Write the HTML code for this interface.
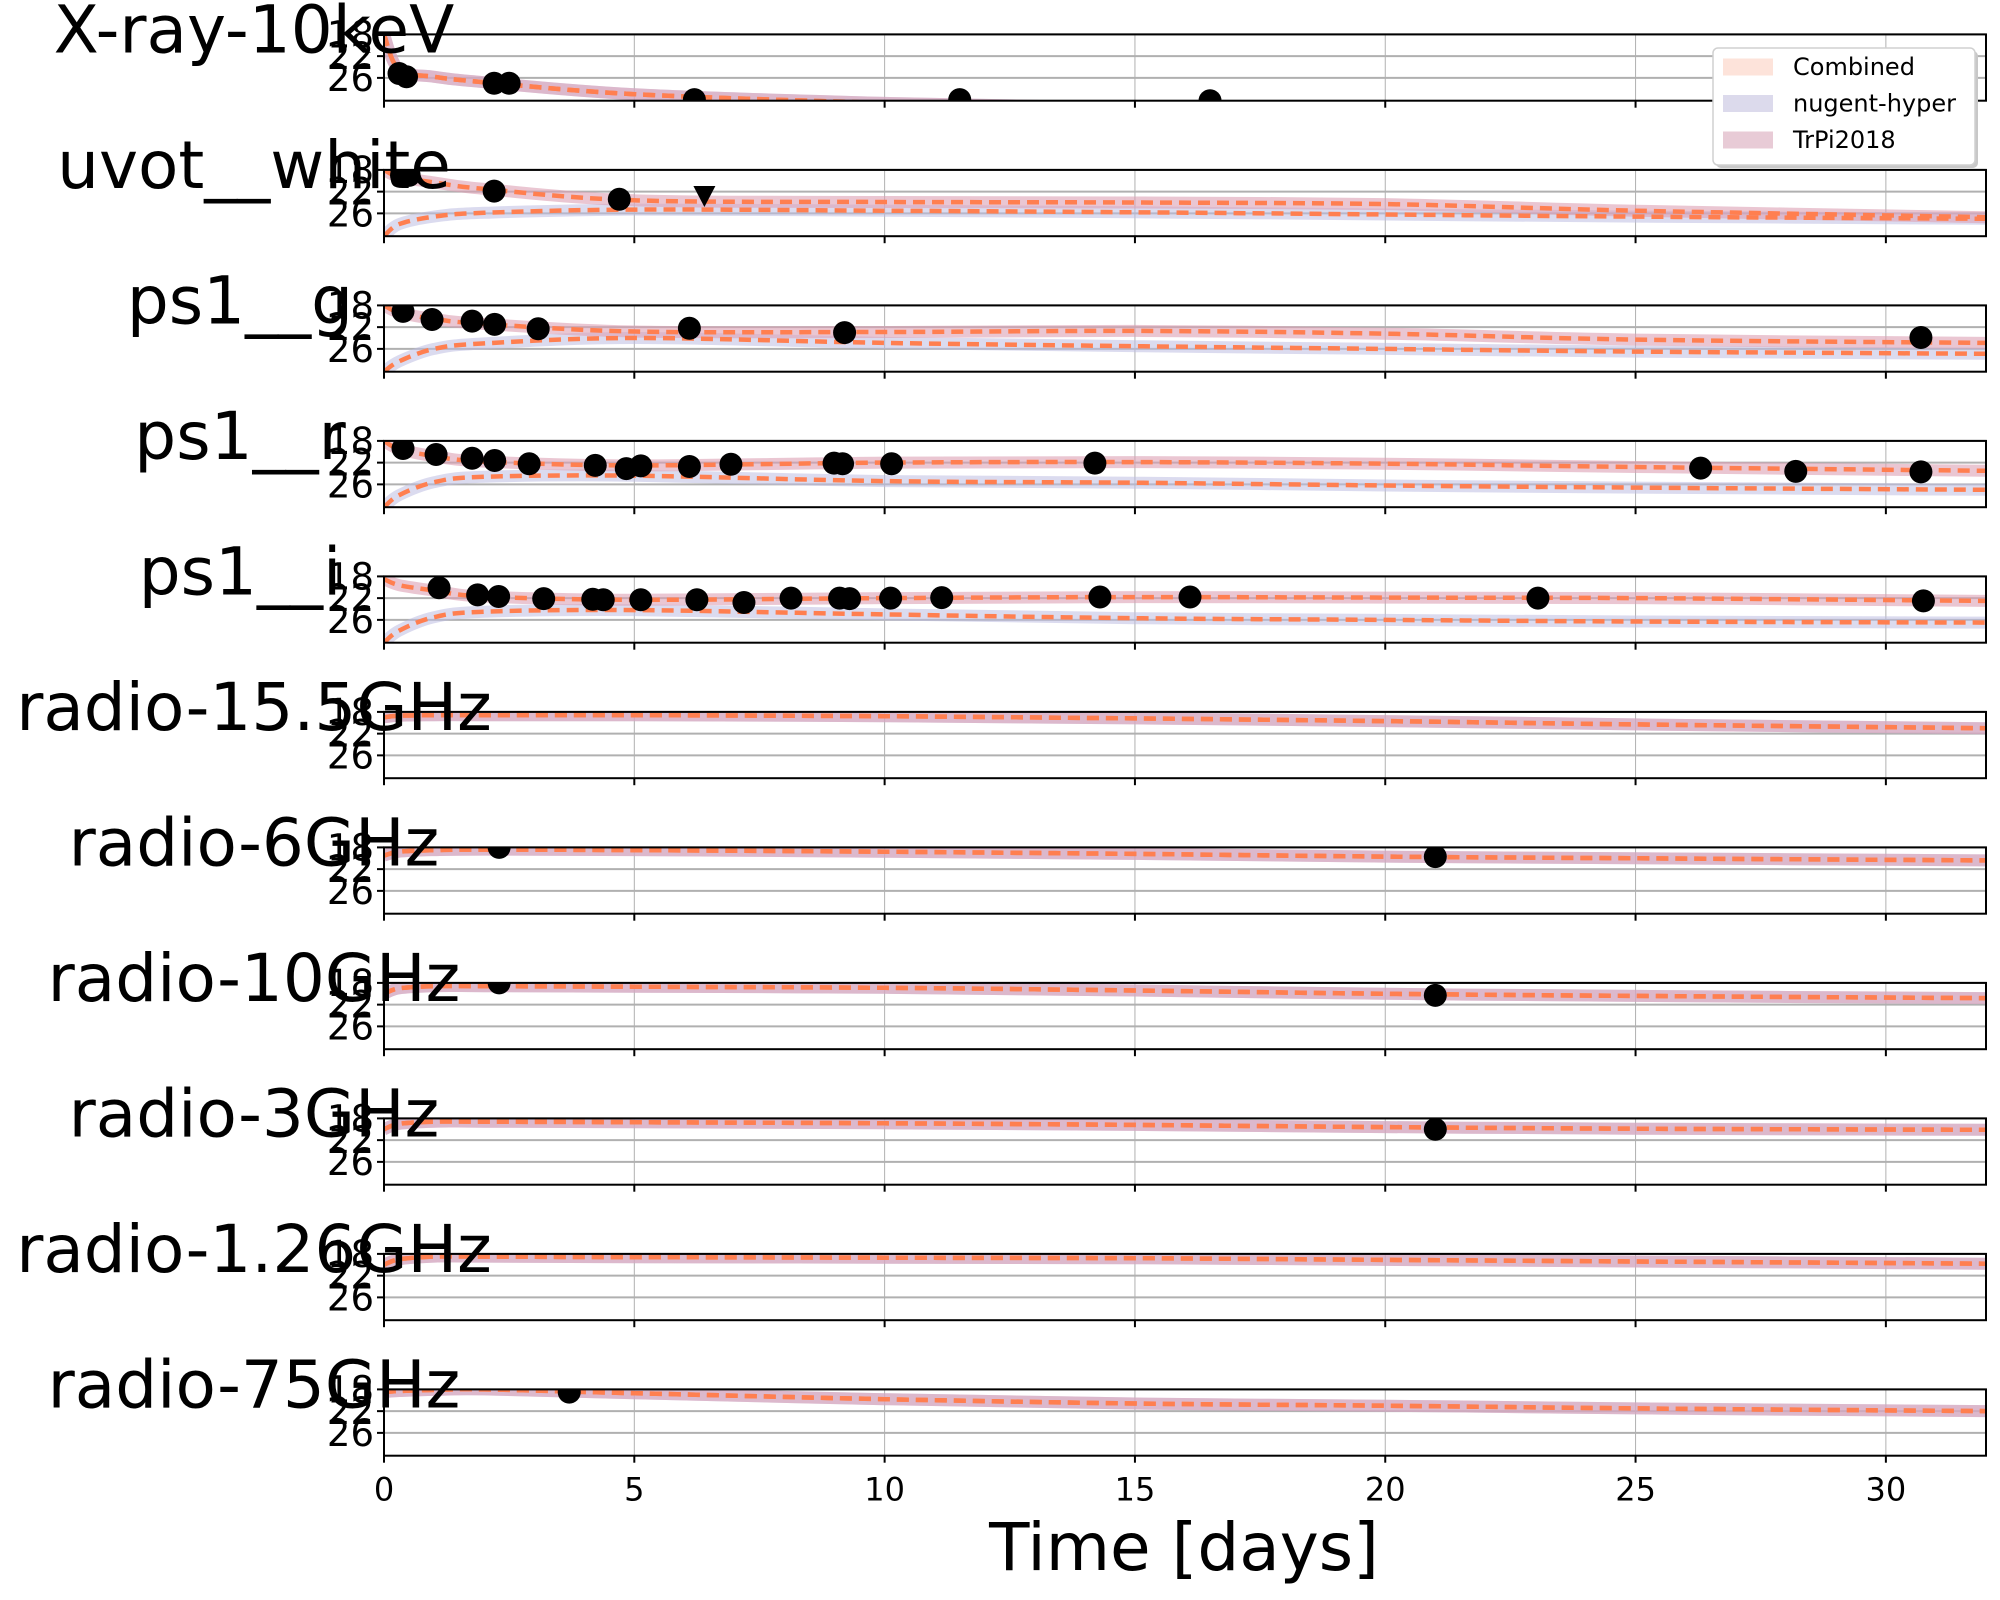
<!DOCTYPE html>
<html><head><meta charset="utf-8">
<style>
html,body{margin:0;padding:0;background:#fff;}
svg{display:block;font-family:"DejaVu Sans","Liberation Sans",sans-serif;}
</style></head>
<body>
<svg id="chart" width="2000" height="1600" viewBox="0 0 2000 1600" xmlns="http://www.w3.org/2000/svg"></svg>
<script>
// ---- data ----
const panelNames = ["X-ray-10keV","uvot__white","ps1__g","ps1__r","ps1__i","radio-15.5GHz","radio-6GHz","radio-10GHz","radio-3GHz","radio-1.26GHz","radio-75GHz"];
const curveTimes = [0,0.3,1,2,5,10,15,20,25,32];
const upperXray = [18,24.5,25.8,26.8,29,30.6,31.5,32,32,32];
const lowerXray = [18,24.5,25.8,26.8,29,30.6,31.5,32,32,32];
const upperUvot = [18,19.3,20.3,21.5,23.6,23.9,24.0,24.3,25.5,26.7];
const lowerUvot = [30.2,28.0,26.6,25.9,25.3,25.5,25.8,26.2,26.6,27.0];
const upperG = [18,19.3,20.5,21.4,22.8,22.9,22.7,23.2,24.3,24.9];
const lowerG = [30.2,28.3,26.0,25.0,24.0,24.9,25.5,26,26.5,26.9];
const upperR = [18,19.5,20.8,21.8,22.5,22.0,21.9,22.2,22.8,23.5];
const lowerR = [30.2,28.0,25.6,24.6,24.4,25.4,25.7,26.2,26.6,27.0];
const upperI = [18.5,19.6,20.6,21.7,22.3,22.0,21.8,21.9,22.0,22.5];
const lowerI = [30.2,28.0,25.5,24.5,24.2,25.0,25.7,26.0,26.3,26.5];
const curve155 = [19,18.7,18.6,18.6,18.6,18.8,19.2,19.7,20.3,21.0];
const curve6 = [19.5,18.8,18.5,18.4,18.5,18.8,19.2,19.7,20.0,20.4];
const curve10 = [20,19,18.6,18.6,18.7,18.9,19.4,20.0,20.4,20.8];
const curve3 = [20,19,18.6,18.6,18.7,18.9,19.2,19.6,19.9,20.1];
const curve126 = [20,19,18.5,18.5,18.6,18.7,18.8,19.1,19.4,19.8];
const curve75 = [18.5,18.3,18.1,18.0,18.7,19.8,20.6,21.0,21.5,22.0];

const ptXrayT = [0.3,0.45,2.2,2.5,6.2,11.5,16.5];
const ptXrayM = [25.2,25.8,27.0,27.0,30.0,30.0,30.2];
const ptUvotT = [0.35,0.5,2.2,4.7];
const ptUvotM = [19.0,19.0,21.9,23.4];
const limUvotT = [6.4];
const limUvotM = [22.8];
const ptGT = [0.38,0.96,1.76,2.21,3.08,6.1,9.2,30.7];
const ptGM = [19.1,20.6,20.9,21.5,22.3,22.2,23.0,23.9];
const ptRT = [0.38,1.04,1.76,2.21,2.9,4.22,4.84,5.13,6.1,6.93,8.99,9.16,10.14,14.2,26.3,28.2,30.7];
const ptRM = [19.4,20.5,21.2,21.6,22.2,22.5,23.1,22.6,22.7,22.3,22.1,22.2,22.2,22.1,23.0,23.6,23.7];
const ptIT = [1.1,1.87,2.29,3.19,4.17,4.38,5.13,6.25,7.19,8.13,9.1,9.3,10.12,11.14,14.3,16.1,23.05,30.75];
const ptIM = [20.1,21.4,21.7,22.1,22.2,22.3,22.3,22.3,22.8,22.0,22.0,22.1,22.0,21.9,21.8,21.8,22.0,22.5];
const pt6T = [2.3,21.0];
const pt6M = [18.0,19.7];
const pt10T = [2.3,21.0];
const pt10M = [18.0,20.3];
const pt3T = [21.0];
const pt3M = [20.0];
const pt75T = [3.7];
const pt75M = [18.5];

const xTicks = [0,5,10,15,20,25,30];
const yTicks = [18,22,26];

const panels = [
 {u:upperXray,l:lowerXray,pt:ptXrayT,pm:ptXrayM},
 {u:upperUvot,l:lowerUvot,pt:ptUvotT,pm:ptUvotM,lt:limUvotT,lm:limUvotM},
 {u:upperG,l:lowerG,pt:ptGT,pm:ptGM},
 {u:upperR,l:lowerR,pt:ptRT,pm:ptRM},
 {u:upperI,l:lowerI,pt:ptIT,pm:ptIM},
 {u:curve155,l:curve155,pt:[],pm:[]},
 {u:curve6,l:curve6,pt:pt6T,pm:pt6M},
 {u:curve10,l:curve10,pt:pt10T,pm:pt10M},
 {u:curve3,l:curve3,pt:pt3T,pm:pt3M},
 {u:curve126,l:curve126,pt:[],pm:[]},
 {u:curve75,l:curve75,pt:pt75T,pm:pt75M}
];

// ---- layout ----
const X0=384, X1=1986, TMAX=32;
const PTOP0=34.4, PSTEP=135.5, PH=66.3;
const MTOP=18, MBOT=30.2;
const NS="http://www.w3.org/2000/svg";
const svg=document.getElementById('chart');
function xs(t){return X0+(t/TMAX)*(X1-X0);}
function ys(m,top){return top+(m-MTOP)/(MBOT-MTOP)*PH;}
function mk(tag,attrs,parent){const e=document.createElementNS(NS,tag);for(const k in attrs)e.setAttribute(k,attrs[k]);(parent||svg).appendChild(e);return e;}
function smoothPath(pts){
 let d="M"+pts[0][0].toFixed(1)+","+pts[0][1].toFixed(1);
 for(let i=0;i<pts.length-1;i++){
  const p0=pts[Math.max(0,i-1)],p1=pts[i],p2=pts[i+1],p3=pts[Math.min(pts.length-1,i+2)];
  const c1=[p1[0]+(p2[0]-p0[0])/6,p1[1]+(p2[1]-p0[1])/6];
  const c2=[p2[0]-(p3[0]-p1[0])/6,p2[1]-(p3[1]-p1[1])/6];
  d+=" C"+c1[0].toFixed(1)+","+c1[1].toFixed(1)+" "+c2[0].toFixed(1)+","+c2[1].toFixed(1)+" "+p2[0].toFixed(1)+","+p2[1].toFixed(1);
 }
 return d;
}
const defs=mk('defs',{});

panels.forEach((p,i)=>{
 const top=PTOP0+i*PSTEP;
 const g=mk('g',{});
 
 
 const cp=mk('clipPath',{id:'clip'+i},defs);
 mk('rect',{x:X0,y:top,width:X1-X0,height:PH},cp);
 xTicks.forEach(t=>{
  const l=mk('line',{x1:xs(t),x2:xs(t),y1:top,y2:top+PH,stroke:'#b0b0b0','stroke-width':1},g);
  
  
 });
 yTicks.forEach(m=>{
  const l=mk('line',{x1:X0,x2:X1,y1:ys(m,top),y2:ys(m,top),stroke:'#b0b0b0','stroke-width':2},g);
  
  
 });
 const plot=mk('g',{'clip-path':'url(#clip'+i+')'},g);
 const up=smoothPath(curveTimes.map((t,k)=>[xs(t),ys(p.u[k],top)]));
 const lo=smoothPath(curveTimes.map((t,k)=>[xs(t),ys(p.l[k],top)]));
 const b1=mk('path',{d:lo,fill:'none',stroke:'rgba(190,190,225,0.55)','stroke-width':12},plot);
 
 
 const b2=mk('path',{d:up,fill:'none',stroke:'rgba(220,160,180,0.6)','stroke-width':12},plot);
 
 
 const d1=mk('path',{d:lo,fill:'none',stroke:'#ff7f50','stroke-width':4.5,'stroke-dasharray':'12 7'},plot);
 
 
 const d2=mk('path',{d:up,fill:'none',stroke:'#ff7f50','stroke-width':4.5,'stroke-dasharray':'12 7'},plot);
 
 
 p.pt.forEach((t,k)=>{
  const c=mk('circle',{cx:xs(t),cy:ys(p.pm[k],top),r:11.5,fill:'#000'},plot);
  
  
 });
 if(p.lt){p.lt.forEach((t,k)=>{
  const x=xs(t),y=ys(p.lm[k],top);
  const tr=mk('polygon',{points:(x-11)+","+(y-10)+" "+(x+11)+","+(y-10)+" "+x+","+(y+11),fill:'#000'},plot);
  
  
 });}
 const fr=mk('rect',{x:X0,y:top,width:X1-X0,height:PH,fill:'none',stroke:'#000','stroke-width':2},g);
 
 
 yTicks.forEach(m=>{
  const y=ys(m,top);
  mk('line',{x1:X0-7,x2:X0,y1:y,y2:y,stroke:'#000','stroke-width':2},g);
  const tx=mk('text',{x:X0-10,y:y+13,'font-size':37,'text-anchor':'end',fill:'#000'},g);
  tx.textContent=m;
  
  
 });
 xTicks.forEach(t=>{mk('line',{x1:xs(t),x2:xs(t),y1:top+PH,y2:top+PH+7,stroke:'#000','stroke-width':2},g);});
 const ttl=mk('text',{x:i>=2&&i<=4?240:254,y:top+18,'font-size':66,'text-anchor':'middle',fill:'#000'},g);
 ttl.textContent=panelNames[i];
 
 
 if(i===panels.length-1){
  xTicks.forEach(t=>{
   const tx=mk('text',{x:xs(t),y:top+PH+45,'font-size':32,'text-anchor':'middle',fill:'#000'},g);
   tx.textContent=t;
   
   
  });
 }
});
const xt=mk('text',{x:1184,y:1570,'font-size':66,'text-anchor':'middle',fill:'#000'});
xt.textContent='Time [days]';



const lg=mk('g',{});


mk('rect',{x:1716,y:51,width:262,height:117,rx:5,fill:'#c8c8c8'},lg);
mk('rect',{x:1713,y:48,width:262,height:117,rx:5,fill:'#fff',stroke:'#d0d0d0','stroke-width':1.5},lg);
const legNames=['Combined','nugent-hyper','TrPi2018'];
const legColors=['#fde3da','#dcdaec','#e8cbd6'];
legNames.forEach((n,k)=>{
 const cy=67+k*36.5;
 const r=mk('rect',{x:1723,y:cy-8.5,width:50,height:17,fill:legColors[k]},lg);
 
 
 const t=mk('text',{x:1793,y:cy+8,'font-size':24,fill:'#000'},lg);
 t.textContent=n;
 
 
});
</script>
</body></html>
